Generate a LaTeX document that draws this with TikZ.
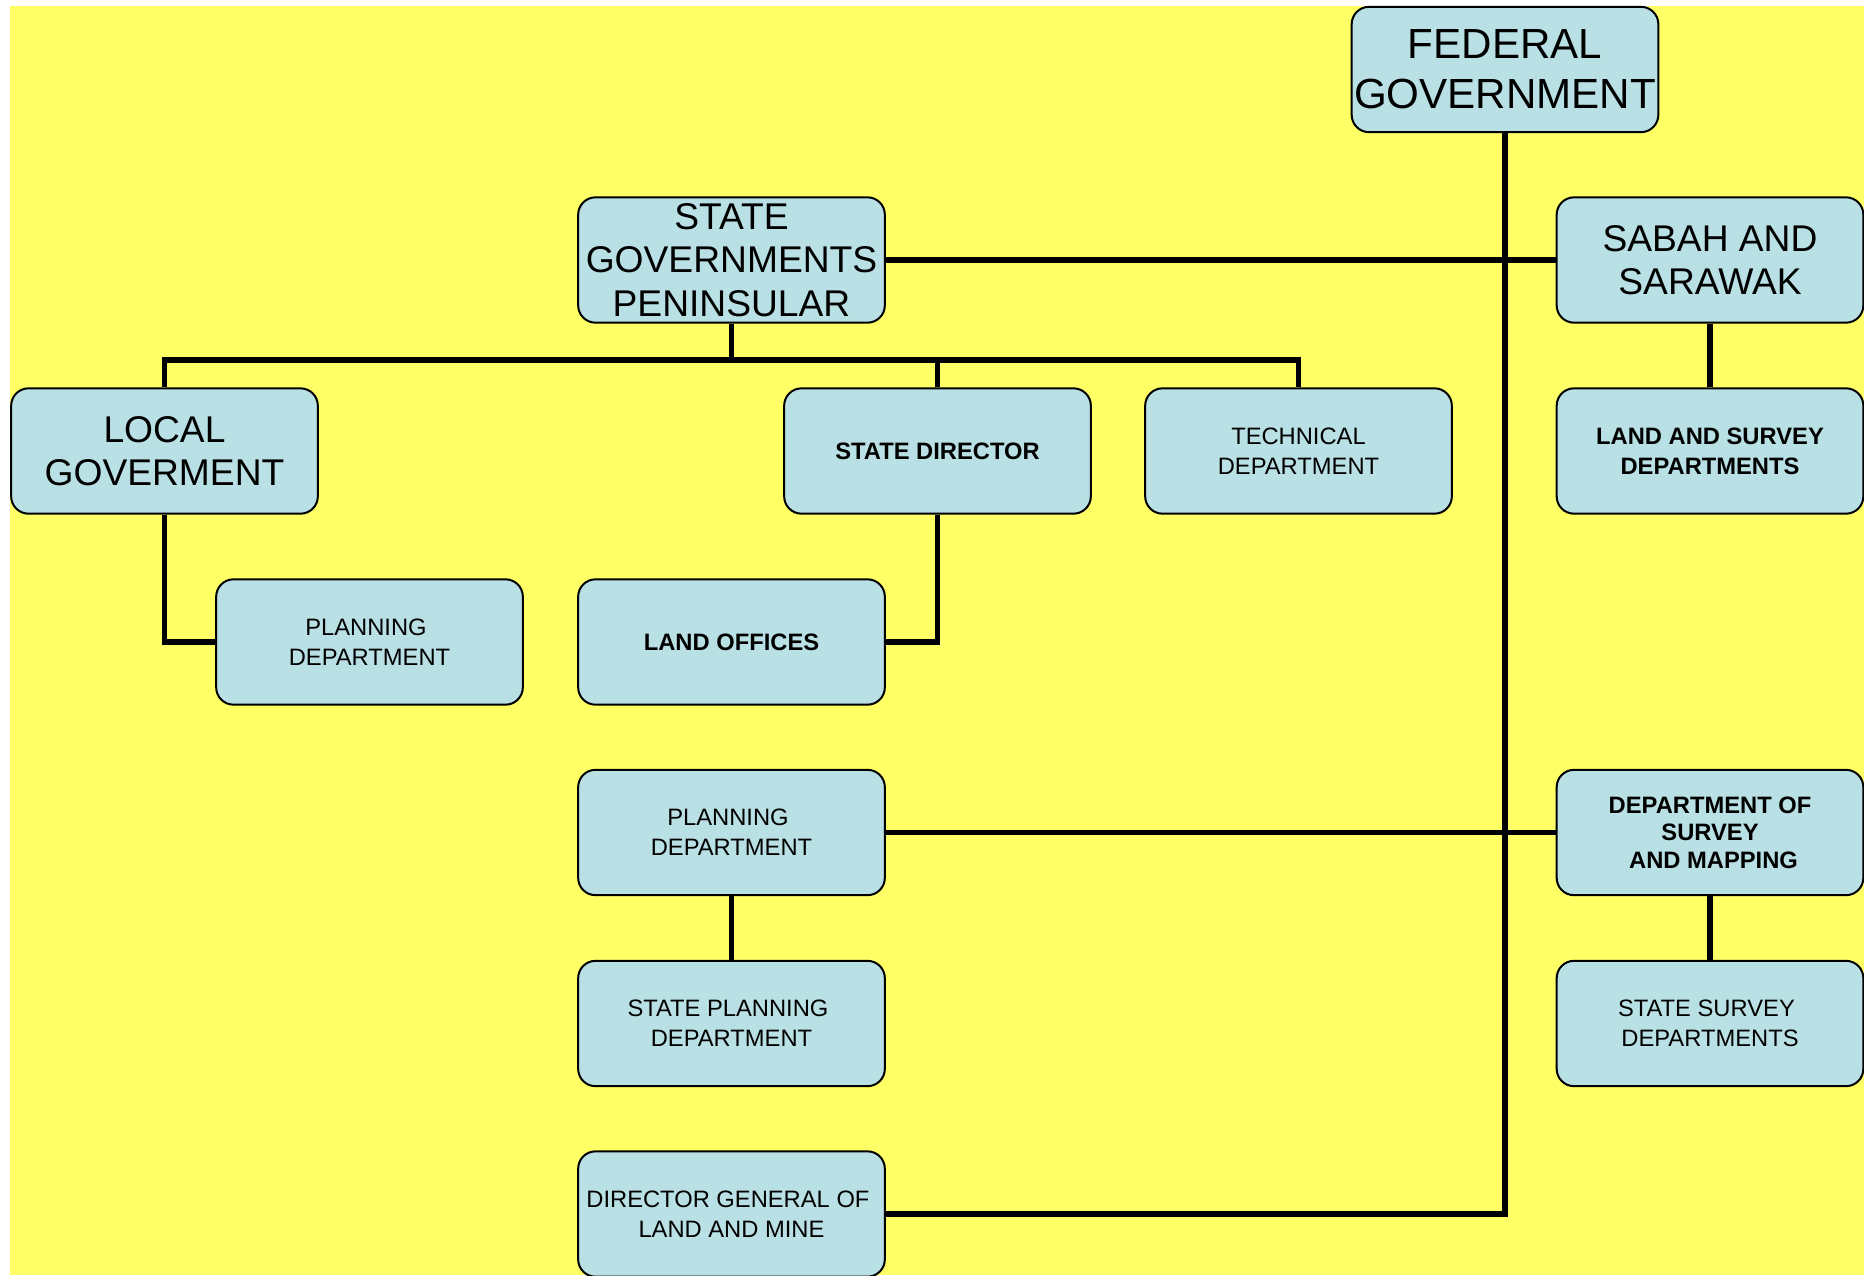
\documentclass[tikz,border=0pt]{standalone}
\usepackage{fontspec}
\setmainfont{Liberation Sans}
\definecolor{bgyellow}{RGB}{255,255,102}
\definecolor{boxblue}{RGB}{185,224,228}
\begin{document}
\begin{tikzpicture}[x=0.75pt,y=-0.75pt,
  box/.style={draw=black, line width=1.5pt, fill=boxblue, rounded corners=13pt,
    minimum width=230pt, minimum height=94pt, inner sep=1pt, align=center,
    font=\fontsize{17.8}{22.5}\selectfont},
  bigA/.style={font=\fontsize{31.6}{37.5}\selectfont},
  bigB/.style={font=\fontsize{27.9}{32.5}\selectfont},
  bold/.style={font=\fontsize{17.8}{22.5}\selectfont\bfseries},
  boldtight/.style={font=\fontsize{17.8}{20.5}\selectfont\bfseries},
  conn/.style={draw=black, line width=4.1pt, line join=miter}]
\useasboundingbox (0,0) rectangle (1864,1275);
\fill[bgyellow] (10,6) rectangle (1864,1275);
% nodes
\node[box,bigA] (fed) at (1505,69.5) {FEDERAL\\GOVERNMENT};
\node[box,bigB] (state) at (731.5,260) {STATE\\GOVERNMENTS\\PENINSULAR};
\node[box,bigB] (sabah) at (1710,260) {SABAH AND\\SARAWAK};
\node[box,bigB] (local) at (164.5,451) {LOCAL\\GOVERMENT};
\node[box,bold] (sdir) at (937.5,451) {STATE DIRECTOR};
\node[box] (tech) at (1298.5,451) {TECHNICAL\\DEPARTMENT};
\node[box,bold] (lsd) at (1710,451) {LAND AND SURVEY\\DEPARTMENTS};
\node[box] (plan1) at (369.5,642) {PLANNING\hspace*{0.3em}\\DEPARTMENT};
\node[box,bold] (landoff) at (731.5,642) {LAND OFFICES};
\node[box] (plan2) at (731.5,832.5) {PLANNING\hspace*{0.3em}\\DEPARTMENT};
\node[box,boldtight] (dsm) at (1710,832.5) {DEPARTMENT OF\\SURVEY\hspace*{0.3em}\\\hspace*{0.3em}AND MAPPING};
\node[box] (splan) at (731.5,1023.5) {STATE PLANNING\hspace*{0.3em}\\DEPARTMENT};
\node[box] (ssd) at (1710,1023.5) {STATE SURVEY\hspace*{0.3em}\\DEPARTMENTS};
\node[box] (dg) at (731.5,1214) {DIRECTOR GENERAL OF\hspace*{0.3em}\\LAND AND MINE};
\coordinate (bus) at (731.5,360);
% connectors
\draw[conn] (fed.south) |- (dg.east);
\draw[conn] (state.east) -- (sabah.west);
\draw[conn] (plan2.east) -- (dsm.west);
\draw[conn] (state.south) -- (bus);
\draw[conn] (local.north) |- (bus) -| (sdir.north);
\draw[conn] (bus) -| (tech.north);
\draw[conn] (local.south) |- (plan1.west);
\draw[conn] (sdir.south) |- (landoff.east);
\draw[conn] (sabah.south) -- (lsd.north);
\draw[conn] (dsm.south) -- (ssd.north);
\draw[conn] (plan2.south) -- (splan.north);
\end{tikzpicture}
\end{document}
